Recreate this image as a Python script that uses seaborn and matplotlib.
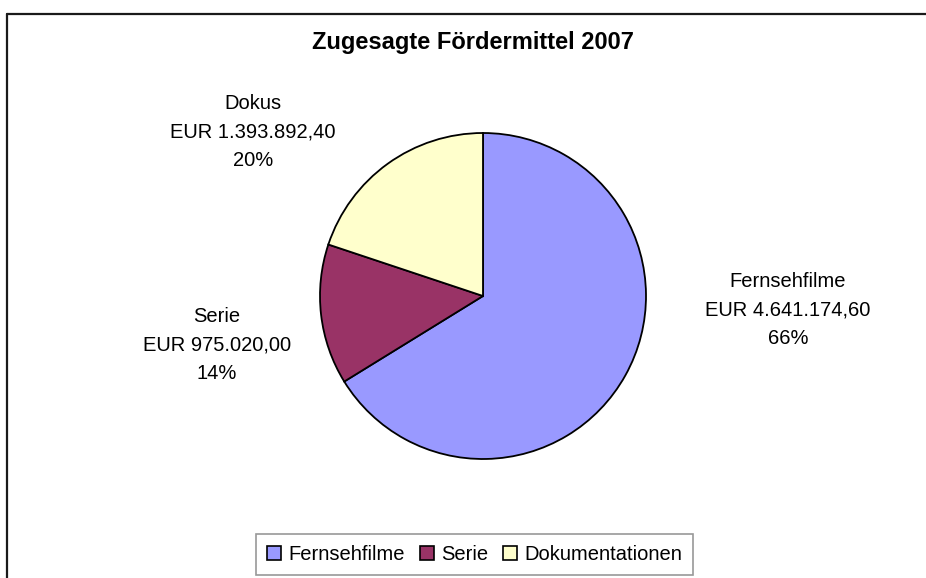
import matplotlib
matplotlib.use("Agg")
import matplotlib.pyplot as plt
import matplotlib.patches as mpatches
import seaborn as sns

# --- Daten ---
categories = ["Fernsehfilme", "Serie", "Dokumentationen"]
label_names = ["Fernsehfilme", "Serie", "Dokus"]
amounts = [4641174.60, 975020.00, 1393892.40]
colors = ["#9999FF", "#993366", "#FFFFCC"]
title = "Zugesagte Fördermittel 2007"

W, H = 926, 578

sns.set_theme(style="white")
plt.rcParams["font.family"] = ["Liberation Sans", "DejaVu Sans"]
plt.rcParams["text.color"] = "black"


def eur(v):
    # deutsches Zahlenformat: 1.234.567,89
    s = f"{v:,.2f}"
    return "EUR " + s.replace(",", "X").replace(".", ",").replace("X", ".")


def py(y):
    # Pixel von oben -> Datenkoordinate von unten
    return H - y


fig = plt.figure(figsize=(W / 100, H / 100), dpi=100)
ax = fig.add_axes([0, 0, 1, 1])

wedges, _ = ax.pie(
    amounts,
    colors=colors,
    startangle=90,
    counterclock=False,
    center=(483, py(296)),
    radius=163,
    wedgeprops=dict(edgecolor="black", linewidth=1.3),
)
ax.set_xlim(0, W)
ax.set_ylim(0, H)
ax.axis("off")

# Beschriftungen
total = sum(amounts)
label_pos = [(788, 310), (217, 345), (253, 132)]
for name, val, (lx, ly) in zip(label_names, amounts, label_pos):
    pct = round(val / total * 100)
    ax.text(lx, py(ly), f"{name}\n{eur(val)}\n{pct}%", ha="center", va="center",
            multialignment="center", fontsize=14.5, linespacing=1.65, color="black")

ax.text(473, py(43), title, ha="center", va="center", fontsize=17,
        fontweight="bold", color="black")

# Legende
handles = [mpatches.Patch(facecolor=c, edgecolor="black", linewidth=1.2) for c in colors]
leg = fig.legend(handles, categories, loc="center", ncol=3,
                 bbox_to_anchor=(474.5 / W, 1 - 554.5 / H),
                 fontsize=14.5, frameon=True, fancybox=False, shadow=False,
                 handlelength=0.7, handleheight=0.7, handletextpad=0.35,
                 columnspacing=0.75, borderpad=0.55, borderaxespad=0)
leg.get_frame().set_edgecolor("#7f7f7f")
leg.get_frame().set_linewidth(1.2)
for t in leg.get_texts():
    t.set_color("black")

# Rahmen (oben und links sichtbar)
fig.add_artist(plt.Line2D([7 / W, 1], [1 - 14 / H, 1 - 14 / H],
                          transform=fig.transFigure, color="#1a1a1a", lw=1.6))
fig.add_artist(plt.Line2D([7 / W, 7 / W], [0, 1 - 14 / H],
                          transform=fig.transFigure, color="#1a1a1a", lw=1.6))

fig.savefig("out.png", dpi=100, facecolor="white")
